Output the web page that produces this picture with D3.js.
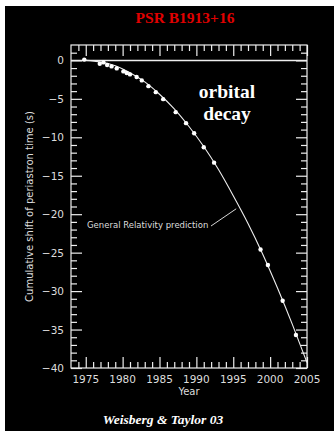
<!DOCTYPE html>
<html>
<head>
<meta charset="utf-8">
<script src="https://cdn.jsdelivr.net/npm/d3@7"></script>
<style>
  body { margin: 0; background: #fff; }
  svg { display: block; }
</style>
</head>
<body>
<div id="chart"></div>
<script>
// observed periastron shifts (year, seconds)
const obsYears = [1974.8, 1976.9, 1977.4, 1977.9, 1978.5, 1979.2, 1980.1, 1980.55, 1981.0, 1981.9,
                  1982.6, 1983.5, 1984.5, 1985.5, 1987.2, 1988.6, 1989.7, 1991.0, 1992.4,
                  1998.7, 1999.7, 2001.7, 2003.5];
const obsShift = [0.1, -0.43, -0.26, -0.61, -0.78, -1.04, -1.43, -1.65, -1.82, -2.17,
                  -2.6, -3.35, -4.13, -5.04, -6.73, -8.16, -9.47, -11.3, -13.3,
                  -24.6, -26.6, -31.25, -35.7];

// GR prediction curve
const grYears = [1975, 1977, 1979, 1981, 1983, 1985, 1987, 1989, 1991, 1993, 1995, 1997, 1999, 2001, 2003, 2005];
const grShift = [0, -0.2, -0.7, -1.6, -2.8, -4.4, -6.3, -8.6, -11.2, -14.2, -17.6, -21.2, -25.2, -29.6, -34.3, -39.3];

const xTicks = [1975, 1980, 1985, 1990, 1995, 2000, 2005];
const yTicks = [0, -5, -10, -15, -20, -25, -30, -35, -40];

const W = 334, H = 431;
const plot = {left: 71, right: 307, top: 45, bottom: 368};
const fg = "#eeeeee";

const svg = d3.select("#chart").append("svg")
    .attr("width", W)
    .attr("height", H);

// black panel
svg.append("rect")
    .attr("x", 5).attr("y", 6)
    .attr("width", W - 5).attr("height", H - 6)
    .attr("fill", "#000");

const x = d3.scaleLinear().domain([1973, 2005]).range([plot.left, plot.right]);
const y = d3.scaleLinear().domain([-40, 2]).range([plot.bottom, plot.top]);

const g = svg.append("g");

// frame
g.append("rect")
    .attr("x", plot.left).attr("y", plot.top)
    .attr("width", plot.right - plot.left).attr("height", plot.bottom - plot.top)
    .attr("fill", "none").attr("stroke", fg).attr("stroke-width", 1.2);

// inward ticks on all four sides
const minorX = d3.range(1974, 2005, 1).filter(v => v % 5 !== 0);
const minorY = d3.range(-39, 2, 1).filter(v => v % 5 !== 0);

function styleAxis(sel) {
  sel.select(".domain").remove();
  sel.selectAll("line").attr("stroke", fg).attr("stroke-width", 1.2);
  sel.selectAll("text").remove();
}

g.append("g").attr("transform", `translate(0,${plot.bottom})`)
    .call(d3.axisTop(x).tickValues(xTicks).tickSize(11)).call(styleAxis);
g.append("g").attr("transform", `translate(0,${plot.bottom})`)
    .call(d3.axisTop(x).tickValues(minorX).tickSize(6)).call(styleAxis);
g.append("g").attr("transform", `translate(0,${plot.top})`)
    .call(d3.axisBottom(x).tickValues(xTicks).tickSize(11)).call(styleAxis);
g.append("g").attr("transform", `translate(0,${plot.top})`)
    .call(d3.axisBottom(x).tickValues(minorX).tickSize(6)).call(styleAxis);

g.append("g").attr("transform", `translate(${plot.left},0)`)
    .call(d3.axisRight(y).tickValues(yTicks).tickSize(11)).call(styleAxis);
g.append("g").attr("transform", `translate(${plot.left},0)`)
    .call(d3.axisRight(y).tickValues(minorY).tickSize(6)).call(styleAxis);
g.append("g").attr("transform", `translate(${plot.right},0)`)
    .call(d3.axisLeft(y).tickValues(yTicks).tickSize(11)).call(styleAxis);
g.append("g").attr("transform", `translate(${plot.right},0)`)
    .call(d3.axisLeft(y).tickValues(minorY).tickSize(6)).call(styleAxis);

// tick labels
const labelFont = "'DejaVu Sans', sans-serif";
g.selectAll(".xlab").data(xTicks).enter().append("text")
    .attr("x", d => x(d)).attr("y", 383)
    .attr("text-anchor", "middle")
    .attr("font-family", labelFont).attr("font-size", 10.5)
    .attr("fill", "#ddd")
    .text(d => d);

g.selectAll(".ylab").data(yTicks).enter().append("text")
    .attr("x", 64).attr("y", d => y(d) + 4)
    .attr("text-anchor", "end")
    .attr("font-family", labelFont).attr("font-size", 10.5)
    .attr("fill", "#ddd")
    .text(d => d === 0 ? "0" : "\u2212" + Math.abs(d));

// axis titles
g.append("text")
    .attr("x", (plot.left + plot.right) / 2).attr("y", 395)
    .attr("text-anchor", "middle")
    .attr("font-family", labelFont).attr("font-size", 10)
    .attr("fill", "#ddd")
    .text("Year");

g.append("text")
    .attr("transform", `translate(33,${(plot.top + plot.bottom) / 2}) rotate(-90)`)
    .attr("text-anchor", "middle")
    .attr("font-family", labelFont).attr("font-size", 10)
    .attr("fill", "#ddd")
    .text("Cumulative shift of periastron time (s)");

// zero line
g.append("line")
    .attr("x1", plot.left).attr("x2", plot.right)
    .attr("y1", y(0)).attr("y2", y(0))
    .attr("stroke", fg).attr("stroke-width", 1.5);

// GR prediction curve
const grData = grYears.map((d, i) => [d, grShift[i]]);
g.append("path")
    .datum(grData)
    .attr("fill", "none")
    .attr("stroke", fg)
    .attr("stroke-width", 1.1)
    .attr("d", d3.line().x(d => x(d[0])).y(d => y(d[1])).curve(d3.curveNatural));

// observed points
const obsData = obsYears.map((d, i) => [d, obsShift[i]]);
g.selectAll(".pt").data(obsData).enter().append("circle")
    .attr("cx", d => x(d[0])).attr("cy", d => y(d[1]))
    .attr("r", 2.2)
    .attr("fill", "#fff");

// GR label with leader
g.append("text")
    .attr("x", 87).attr("y", 228)
    .attr("font-family", labelFont).attr("font-size", 8.5)
    .attr("fill", "#ddd")
    .text("General Relativity prediction");
g.append("line")
    .attr("x1", 211).attr("y1", 226)
    .attr("x2", x(1995.4)).attr("y2", y(-19.3))
    .attr("stroke", fg).attr("stroke-width", 0.9);

// annotations
const serif = "'Liberation Serif', 'Times New Roman', serif";
svg.append("text")
    .attr("x", 185).attr("y", 23)
    .attr("text-anchor", "middle")
    .attr("font-family", serif).attr("font-weight", "bold").attr("font-size", 15.5)
    .attr("fill", "#e00000")
    .text("PSR B1913+16");

svg.append("text")
    .attr("x", 227).attr("y", 98)
    .attr("text-anchor", "middle")
    .attr("font-family", serif).attr("font-weight", "bold").attr("font-size", 19.5)
    .attr("fill", "#fff")
    .text("orbital");
svg.append("text")
    .attr("x", 227).attr("y", 120)
    .attr("text-anchor", "middle")
    .attr("font-family", serif).attr("font-weight", "bold").attr("font-size", 19.5)
    .attr("fill", "#fff")
    .text("decay");

svg.append("text")
    .attr("x", 163).attr("y", 424)
    .attr("text-anchor", "middle")
    .attr("font-family", serif).attr("font-weight", "bold").attr("font-style", "italic")
    .attr("font-size", 13.5)
    .attr("fill", "#fff")
    .text("Weisberg &  Taylor 03");
</script>
</body>
</html>
